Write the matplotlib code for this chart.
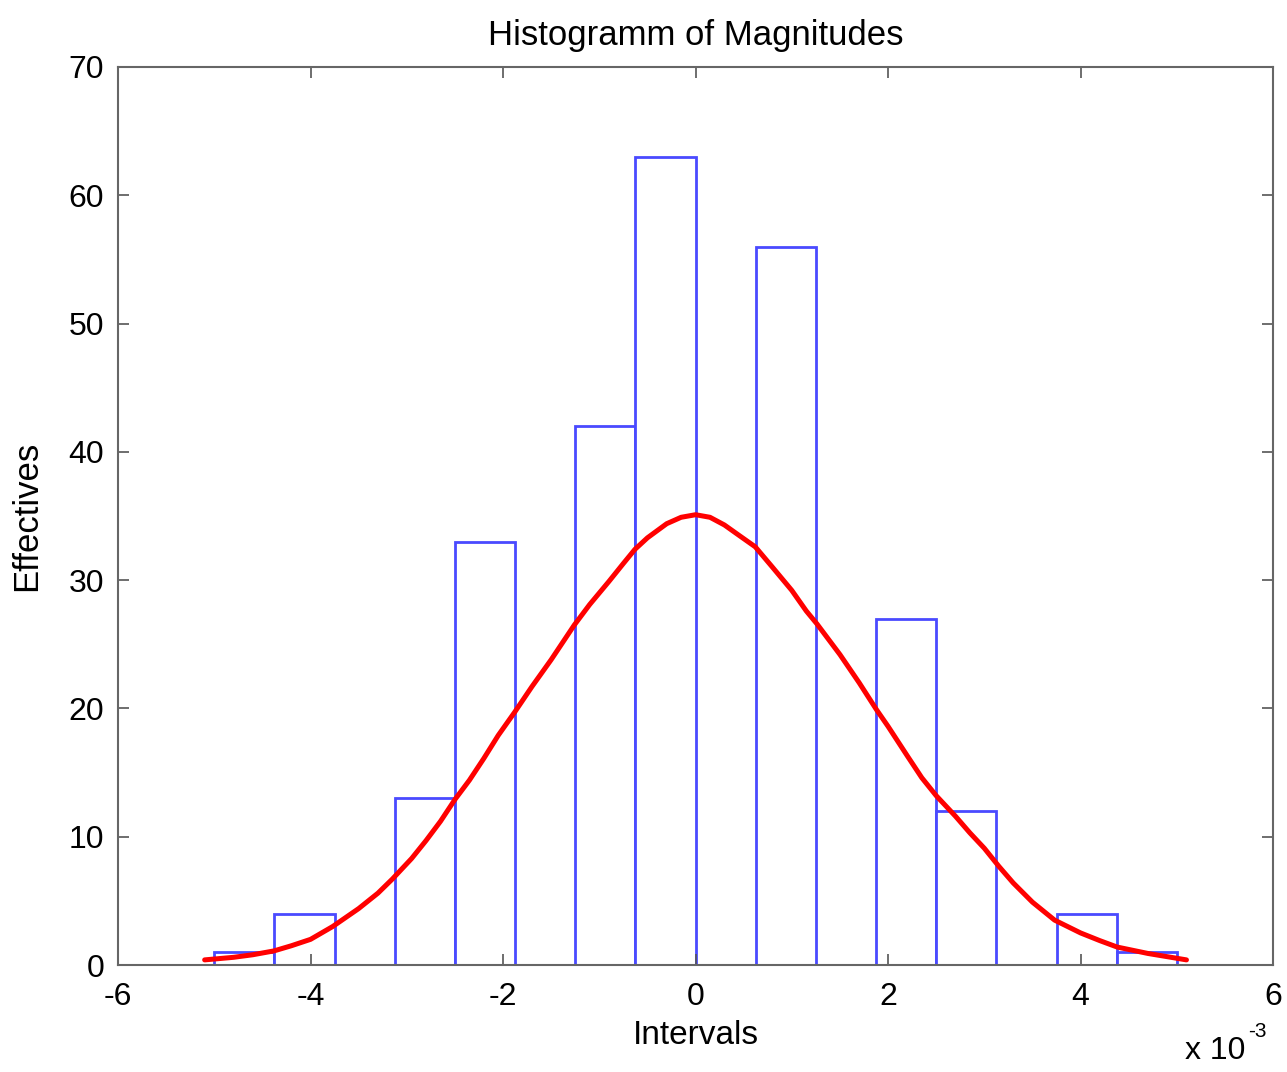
import numpy as np
import matplotlib.pyplot as plt

# histogram data (x in units of 1e-3)
bin_edges = [-5.0, -4.375, -3.75, -3.125, -2.5, -1.875, -1.25, -0.625, 0.0,
             0.625, 1.25, 1.875, 2.5, 3.125, 3.75, 4.375, 5.0]
counts = [1, 4, 0, 13, 33, 0, 42, 63, 0, 56, 0, 27, 12, 0, 4, 1]

# fitted curve
curve_x = [-5.1, -4.8, -4.6, -4.38, -4.2, -4.0, -3.77, -3.5, -3.3, -3.15, -2.95,
           -2.8, -2.65, -2.5, -2.35, -2.2, -2.05, -1.88, -1.7, -1.5, -1.26, -1.1,
           -0.9, -0.75, -0.63, -0.5, -0.3, -0.15, 0.0, 0.15, 0.3, 0.45, 0.62, 0.8,
           1.0, 1.15, 1.26, 1.5, 1.7, 1.88, 2.0, 2.2, 2.35, 2.5, 2.7, 2.85, 3.0,
           3.15, 3.3, 3.5, 3.73, 4.0, 4.2, 4.38, 4.7, 5.1]
curve_y = [0.4, 0.6, 0.8, 1.1, 1.5, 2.0, 3.0, 4.4, 5.6, 6.7, 8.3,
           9.7, 11.2, 12.9, 14.4, 16.1, 17.9, 19.7, 21.7, 23.8, 26.5, 28.1,
           29.9, 31.3, 32.4, 33.3, 34.4, 34.9, 35.1, 34.9, 34.3, 33.5, 32.6, 31.0,
           29.2, 27.6, 26.6, 24.2, 22.0, 19.9, 18.6, 16.3, 14.6, 13.2, 11.6, 10.3, 9.1,
           7.7, 6.4, 4.9, 3.5, 2.5, 1.9, 1.4, 0.9, 0.4]

xticks = [-6, -4, -2, 0, 2, 4, 6]
yticks = [0, 10, 20, 30, 40, 50, 60, 70]

plt.rcParams['font.family'] = ['Liberation Sans', 'DejaVu Sans']
plt.rcParams['axes.unicode_minus'] = False

fig = plt.figure(figsize=(12.87, 10.72), dpi=100)
ax = fig.add_axes([0.0917, 0.0998, 0.8975, 0.8377])

lefts = bin_edges[:-1]
widths = np.diff(bin_edges)
ax.bar(lefts, counts, width=widths, align='edge', facecolor='white',
       edgecolor='#4a4aff', linewidth=2)
ax.plot(curve_x, curve_y, color='#ff0000', linewidth=3.6,
        solid_capstyle='round', solid_joinstyle='round')

ax.set_xlim(-6, 6)
ax.set_ylim(0, 70)
ax.set_xticks(xticks)
ax.set_yticks(yticks)
ax.tick_params(direction='in', top=True, right=True, length=8, width=1.2,
               color='#555555', labelsize=23)
ax.tick_params(axis='x', pad=12)
ax.tick_params(axis='y', pad=10)
for s in ax.spines.values():
    s.set_color('#666666')
    s.set_linewidth(1.5)

ax.set_title('Histogramm of Magnitudes', fontsize=25, pad=16)
ax.set_xlabel('Intervals', fontsize=24, labelpad=6)
ax.set_ylabel('Effectives', fontsize=25, labelpad=18)
# exponent label, MATLAB style
fig.text(0.921, 0.0125, 'x 10', fontsize=23)
fig.text(0.9695, 0.033, '-3', fontsize=15)

fig.savefig('out.png', dpi=100)
